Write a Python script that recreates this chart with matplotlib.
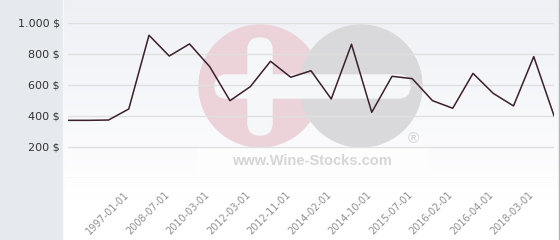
import matplotlib
matplotlib.use("Agg")
import matplotlib.pyplot as plt
import numpy as np
from matplotlib.patches import Circle, FancyBboxPatch, Rectangle
from matplotlib.transforms import ScaledTranslation

# price per sale, in order of the category axis
prices = [372, 372, 374, 445, 921, 787, 865, 718, 499, 589, 753, 650, 692,
          510, 863, 424, 656, 641, 499, 450, 675, 546, 465, 783, 402]
# only every second category carries a label
label_idx = [3, 5, 7, 9, 11, 13, 15, 17, 19, 21, 23]
label_dates = ["1997-01-01", "2008-07-01", "2010-03-01", "2012-03-01",
               "2012-11-01", "2014-02-01", "2014-10-01", "2015-07-01",
               "2016-02-01", "2016-04-01", "2018-03-01"]
y_ticks = [0, 200, 400, 600, 800, 1000]
y_labels = ["", "200 $", "400 $", "600 $", "800 $", "1.000 $"]

W, H = 560, 240
fig = plt.figure(figsize=(W / 100, H / 100), dpi=100)

# background layer in pixel coordinates
bg = fig.add_axes([0, 0, 1, 1])
bg.set_xlim(0, W)
bg.set_ylim(H, 0)
bg.axis("off")
bg.add_patch(Rectangle((0, 0), 62, H, color="#e6eaee", zorder=0))
grad = np.linspace(0, 1, 200).reshape(-1, 1)
top = np.array([0.933, 0.941, 0.961])
bottom = np.array([1.0, 1.0, 1.0])
img = top + (bottom - top) * grad[..., None]
img = np.clip(img, 0, 1)
bg.imshow(np.vstack([img, np.ones((40, 1, 3))]), extent=(63, W, H, 0),
          aspect="auto", zorder=0)
bg.plot([62.5, 62.5], [0, H], color="#f7f8fa", lw=1, zorder=1)
bg.plot([558.5, 558.5], [0, H], color="#b4b4b4", lw=1, zorder=1)

# watermark logo
bg.add_patch(Rectangle((197, 146), 230, 27, color="white", alpha=0.55, zorder=1))
bg.add_patch(Circle((260, 86), 61, color="#ebd3d9", zorder=2))
bg.add_patch(Circle((361, 86), 61, color="#d9d9db", zorder=2))
bg.add_patch(FancyBboxPatch((215, 75), 195, 23,
                            boxstyle="round,pad=0,rounding_size=11.5",
                            color="#f6f7f9", zorder=3))
bg.add_patch(FancyBboxPatch((248, 38), 24, 97,
                            boxstyle="round,pad=0,rounding_size=12",
                            color="#f6f7f9", zorder=3))
bg.text(413, 139, "®", fontsize=11, color="#d2d2d2", ha="center", va="center",
        family="Liberation Sans", zorder=3)
bg.text(312, 161, "www.Wine-Stocks.com", fontsize=10.5, fontweight="bold",
        color="#d6d6d6", ha="center", va="center", family="Liberation Sans",
        zorder=3)

# chart
ax = fig.add_axes([68 / W, (H - 178) / H, (554 - 68) / W, (178 - 23) / H])
ax.patch.set_alpha(0)
x = np.arange(len(prices))
ax.plot(x, prices, color="#3b1f2b", lw=1.1, zorder=3)
ax.set_xlim(0, len(prices) - 1)
ax.set_ylim(0, 1000)
for s in ax.spines.values():
    s.set_visible(False)
ax.set_yticks(y_ticks)
ax.set_yticklabels(y_labels, fontsize=8, color="#333333")
ax.grid(axis="y", color="#e0e0e0", lw=1)
ax.set_xticks(label_idx)
ax.set_xticklabels(label_dates, rotation=45, ha="right", fontsize=7,
                   color="#909090")
ax.tick_params(axis="y", length=0, pad=6)
ax.tick_params(axis="x", length=0, pad=8.5)
shift = ScaledTranslation(2 / 100, 0, fig.dpi_scale_trans)
for lab in ax.get_xticklabels():
    lab.set_transform(lab.get_transform() + shift)

fig.savefig("out.png", dpi=100)
